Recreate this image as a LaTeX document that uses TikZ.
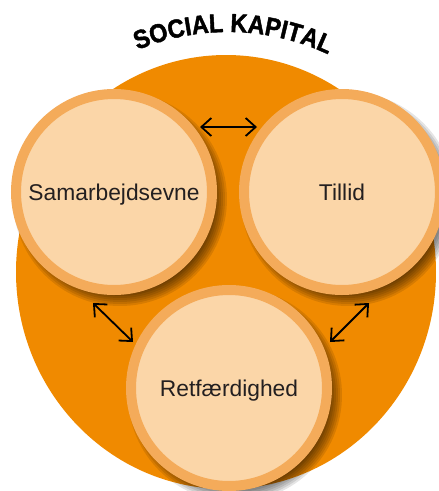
\documentclass[tikz,border=0pt]{standalone}
\usepackage{fontspec}
\setmainfont{Liberation Sans}
\newfontfamily\titlefam[FakeStretch=0.9,FakeBold=1.6]{Liberation Sans}
\usetikzlibrary{arrows.meta,decorations.text}
\definecolor{bigorange}{RGB}{240,138,0}
\definecolor{ringcol}{RGB}{244,171,90}
\definecolor{innercol}{RGB}{251,214,168}
\definecolor{txtcol}{RGB}{35,31,32}
\tikzset{
  bubble/.style={circle, draw=ringcol, line width=10pt, fill=innercol,
    minimum size=196pt, inner sep=0pt, text=txtcol,
    font=\fontsize{22.8}{22.8}\selectfont, text height=16.5pt, text depth=0pt},
  twoway/.style={{Straight Barb[length=10pt,width=18pt]}-{Straight Barb[length=10pt,width=18pt]},
    line width=1.8pt, draw=black},
  shadowlayer/.style={fill=black, opacity=0.1},
}
\begin{document}
\begin{tikzpicture}[x=1pt,y=-1pt]
\useasboundingbox (0,0) rectangle (439,491);
% big orange disc
\fill[bigorange] (226,272) ellipse [x radius=210, y radius=217];
% title along arc
\path[decorate, decoration={text along path, text align=center,
   text={|\titlefam\bfseries\fontsize{26}{26}\selectfont|SOCIAL KAPITAL}}]
   (228,268) ++(-118.7:236) arc[start angle=-118.7, end angle=-58.7, radius=236];
% centres
\coordinate (cS) at (114,192);
\coordinate (cT) at (342,192);
\coordinate (cR) at (229,388);
% shadows
\foreach \c in {cS,cT,cR}{
  \foreach \r in {107,105,...,93}{
    \fill[shadowlayer] ([shift={(6,7)}]\c) circle [radius=\r];
  }
}
% bubbles
\node[bubble] (S) at (cS) {Samarbejdsevne};
\node[bubble] (T) at (cT) {Tillid};
\node[bubble] (R) at (cR) {Retfærdighed};
% connectors
\coordinate (a1) at (200,127);
\coordinate (a2) at (257,127);
\coordinate (b1) at (93,303);
\coordinate (b2) at (133,342);
\coordinate (c1) at (369,303);
\coordinate (c2) at (330,342);
\draw[twoway] (a1) -- (a2);
\draw[twoway] (b1) -- (b2);
\draw[twoway] (c1) -- (c2);
\end{tikzpicture}
\end{document}
